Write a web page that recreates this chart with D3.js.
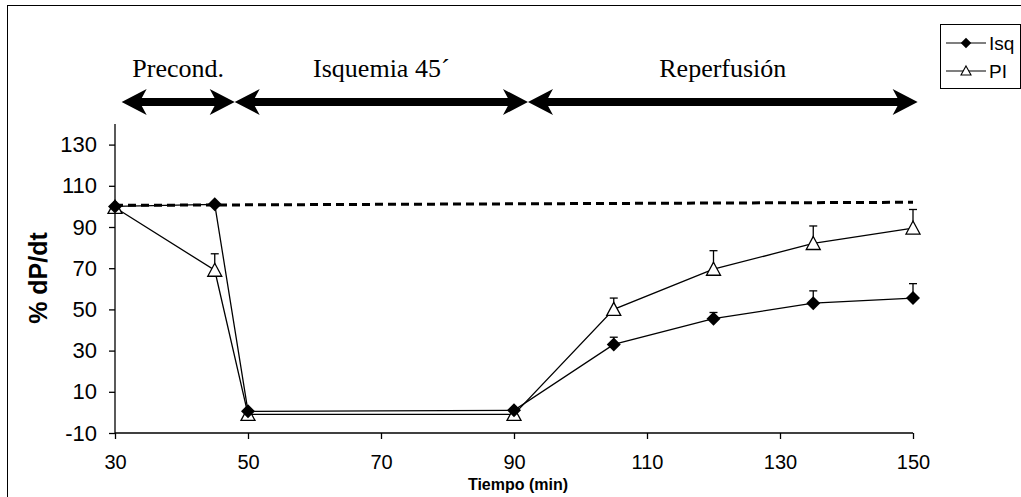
<!DOCTYPE html>
<html>
<head>
<meta charset="utf-8">
<script src="https://cdn.jsdelivr.net/npm/d3@7"></script>
<style>
  body { margin: 0; background: #fff; }
  svg { display: block; }
</style>
</head>
<body>
<div id="chart"></div>
<script>
// Data

var times = [30, 45, 50, 90, 105, 120, 135, 150];
var isq = [100, 101, 0.5, 1, 33, 45.5, 53, 55.5];
var isqErr = [0, 0, 0, 0, 3.5, 3, 6, 7];
var pi = [99.5, 69, -1, -1, 50, 69.5, 82, 89.5];
var piErr = [0, 8, 0, 0, 5.5, 9, 8.5, 9];
var controlTimes = [30, 150];
var control = [100.5, 102];

var phaseLabels = ['Precond.', 'Isquemia 45\u00b4', 'Reperfusi\u00f3n'];
var phaseStart = [31, 48, 92.1];
var phaseEnd = [48, 92.1, 150.7];

var xTicks = [30, 50, 70, 90, 110, 130, 150];
var yTicks = [-10, 10, 30, 50, 70, 90, 110, 130];

// Dimensions

var width = 1021, height = 497;
var plotLeft = 115, plotRight = 913, plotTop = 124, plotBottom = 433;

var svg = d3.select('#chart').append('svg')
  .attr('width', width)
  .attr('height', height);

// Outer frame
svg.append('rect')
  .attr('x', 7.5).attr('y', 5.5)
  .attr('width', 1020).attr('height', 500)
  .attr('fill', 'none')
  .attr('stroke', '#000')
  .attr('stroke-width', 1);

var x = d3.scaleLinear().domain([30, 150]).range([plotLeft, plotRight]);
var y = d3.scaleLinear().domain([-10, 140]).range([plotBottom, plotTop]);

// Axes (plain hyphen for negatives, as in the original)

var plain = function (d) { return String(d); };

var xAxis = svg.append('g')
  .attr('transform', 'translate(0,' + plotBottom + ')')
  .call(d3.axisBottom(x).tickValues(xTicks).tickSize(6).tickPadding(16).tickFormat(plain));
xAxis.select('.domain').attr('d', 'M' + plotLeft + ',0H' + plotRight);
xAxis.selectAll('.tick text').attr('font-size', 20);

var yAxis = svg.append('g')
  .attr('transform', 'translate(' + plotLeft + ',0)')
  .call(d3.axisLeft(y).tickValues(yTicks).tickSize(6).tickPadding(12).tickFormat(plain));
yAxis.select('.domain').attr('d', 'M0,' + plotTop + 'V' + plotBottom);
yAxis.selectAll('.tick text').attr('font-size', 22);

svg.selectAll('.tick text')
  .attr('font-family', 'Liberation Sans, Arial, sans-serif')
  .attr('fill', '#000');
svg.selectAll('.domain, .tick line').attr('stroke', '#000').attr('stroke-width', 1.3);

svg.append('text')
  .attr('transform', 'translate(47,278) rotate(-90)')
  .attr('text-anchor', 'middle')
  .attr('font-family', 'Liberation Sans, Arial, sans-serif')
  .attr('font-weight', 'bold')
  .attr('font-size', 25)
  .text('% dP/dt');

svg.append('text')
  .attr('x', (plotLeft + plotRight) / 2 + 4)
  .attr('y', 490)
  .attr('text-anchor', 'middle')
  .attr('font-family', 'Liberation Sans, Arial, sans-serif')
  .attr('font-weight', 'bold')
  .attr('font-size', 16)
  .text('Tiempo (min)');

// Dashed control line

svg.append('path')
  .attr('d', d3.line().x(function (d, i) { return x(controlTimes[i]); }).y(function (d) { return y(d); })(control))
  .attr('fill', 'none')
  .attr('stroke', '#000')
  .attr('stroke-width', 3)
  .attr('stroke-dasharray', '8,5');

// Series

var line = d3.line()
  .x(function (d, i) { return x(times[i]); })
  .y(function (d) { return y(d); });

function errorBars(vals, errs) {
  var g = svg.append('g').attr('stroke', '#000').attr('stroke-width', 1.3);
  vals.forEach(function (v, i) {
    if (!errs[i]) return;
    var cx = x(times[i]), y0 = y(v), y1 = y(v + errs[i]);
    g.append('line').attr('x1', cx).attr('x2', cx).attr('y1', y0).attr('y2', y1);
    g.append('line').attr('x1', cx - 4).attr('x2', cx + 4).attr('y1', y1).attr('y2', y1);
  });
}

errorBars(pi, piErr);
errorBars(isq, isqErr);

svg.append('path').attr('d', line(pi))
  .attr('fill', 'none').attr('stroke', '#000').attr('stroke-width', 1.3);
svg.append('path').attr('d', line(isq))
  .attr('fill', 'none').attr('stroke', '#000').attr('stroke-width', 1.3);

var triangle = 'M0,-7L7,6L-7,6Z';
var diamond = 'M0,-7L7,0L0,7L-7,0Z';

svg.append('g').selectAll('path')
  .data(pi).enter().append('path')
  .attr('d', triangle)
  .attr('transform', function (d, i) { return 'translate(' + x(times[i]) + ',' + y(d) + ')'; })
  .attr('fill', '#fff')
  .attr('stroke', '#000')
  .attr('stroke-width', 1.3);

svg.append('g').selectAll('path')
  .data(isq).enter().append('path')
  .attr('d', diamond)
  .attr('transform', function (d, i) { return 'translate(' + x(times[i]) + ',' + y(d) + ')'; })
  .attr('fill', '#000');

// Phase arrows

var arrowY = 102;
var phases = svg.append('g');
phaseLabels.forEach(function (lab, i) {
  var x0 = x(phaseStart[i]), x1 = x(phaseEnd[i]);
  phases.append('line')
    .attr('x1', x0 + 10).attr('x2', x1 - 10)
    .attr('y1', arrowY).attr('y2', arrowY)
    .attr('stroke', '#000').attr('stroke-width', 8);
  phases.append('path')
    .attr('d', 'M' + x0 + ',' + arrowY + 'L' + (x0 + 25) + ',' + (arrowY - 13) +
      'L' + (x0 + 18) + ',' + arrowY + 'L' + (x0 + 25) + ',' + (arrowY + 13) + 'Z')
    .attr('fill', '#000');
  phases.append('path')
    .attr('d', 'M' + x1 + ',' + arrowY + 'L' + (x1 - 25) + ',' + (arrowY - 13) +
      'L' + (x1 - 18) + ',' + arrowY + 'L' + (x1 - 25) + ',' + (arrowY + 13) + 'Z')
    .attr('fill', '#000');
  phases.append('text')
    .attr('x', (x0 + x1) / 2)
    .attr('y', 77)
    .attr('text-anchor', 'middle')
    .attr('font-family', 'Liberation Serif, Times New Roman, serif')
    .attr('font-size', 26)
    .text(lab);
});

// Legend

var legend = svg.append('g').attr('transform', 'translate(940,24)');
legend.append('rect')
  .attr('x', 0.5).attr('y', 0.5)
  .attr('width', 80).attr('height', 64)
  .attr('fill', '#fff').attr('stroke', '#000');

var legendNames = ['Isq', 'PI'];
var legendShapes = [diamond, 'M0,-5L5,4L-5,4Z'];
legendNames.forEach(function (name, i) {
  var ly = 19 + i * 28;
  legend.append('line')
    .attr('x1', 6).attr('x2', 46).attr('y1', ly).attr('y2', ly)
    .attr('stroke', '#000').attr('stroke-width', 1.2);
  legend.append('path')
    .attr('d', legendShapes[i])
    .attr('transform', 'translate(26,' + ly + ')' + (i === 0 ? ' scale(0.75)' : ''))
    .attr('fill', i === 0 ? '#000' : '#fff')
    .attr('stroke', '#000')
    .attr('stroke-width', i === 0 ? 0 : 1.1);
  legend.append('text')
    .attr('x', 49).attr('y', ly + 7)
    .attr('font-family', 'Liberation Sans, Arial, sans-serif')
    .attr('font-size', 19)
    .text(name);
});
</script>
</body>
</html>
